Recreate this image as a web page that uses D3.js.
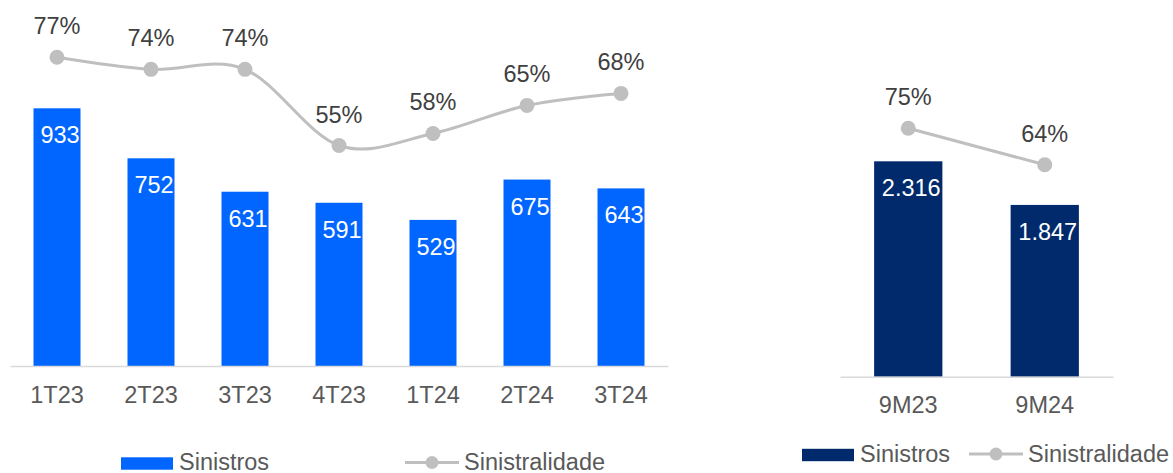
<!DOCTYPE html>
<html>
<head>
<meta charset="utf-8">
<script src="https://cdn.jsdelivr.net/npm/d3@7"></script>
<style>
  body { margin: 0; background: #fff; }
  svg { display: block; font-family: Arial, "Liberation Sans", sans-serif; }
</style>
</head>
<body>
<svg id="chart" width="1173" height="473"></svg>
<script>
// quarterly panel
const quarters = ["1T23", "2T23", "3T23", "4T23", "1T24", "2T24", "3T24"];
const sinistros = [933, 752, 631, 591, 529, 675, 643];
const sinistralidade = [77, 74, 74, 55, 58, 65, 68];

// year-to-date panel
const periods = ["9M23", "9M24"];
const sinistros9M = [2316, 1847];
const sinistralidade9M = [75, 64];

const legendLabels = ["Sinistros", "Sinistralidade"];

const locale = d3.formatLocale({ decimal: ",", thousands: ".", grouping: [3], currency: ["R$", ""] });
const fmtNum = locale.format(",");
const fmtPct = function(d) { return d + "%"; };

const svg = d3.select("#chart");
const FONT = 23.5;

function panel(opts) {
    var g = svg.append("g");
    var x = d3.scaleBand()
        .domain(opts.cats)
        .range(opts.xRange)
        .paddingInner(0.5)
        .paddingOuter(0.25);
    var y = d3.scaleLinear().domain(opts.barDomain).range([opts.base, opts.barTop]);
    var yp = d3.scaleLinear().domain([0, 100]).range([opts.base, opts.pctTop]);

    // bars
    g.selectAll("rect.bar")
        .data(opts.bars).enter()
        .append("rect").attr("class", "bar")
        .attr("x", function(d, i) { return x(opts.cats[i]); })
        .attr("y", function(d) { return y(d); })
        .attr("width", x.bandwidth())
        .attr("height", function(d) { return opts.base - y(d); })
        .attr("fill", opts.color);

    // bar value labels
    g.selectAll("text.val")
        .data(opts.bars).enter()
        .append("text").attr("class", "val")
        .attr("x", function(d, i) { return x(opts.cats[i]) + x.bandwidth() / 2 + 3; })
        .attr("y", function(d) { return y(d) + 35; })
        .attr("text-anchor", "middle")
        .attr("font-size", FONT)
        .attr("fill", "#fff")
        .text(fmtNum);

    // axis
    var axis = g.append("g")
        .attr("transform", "translate(0," + opts.base + ")")
        .call(d3.axisBottom(x).tickSize(0).tickSizeOuter(0).tickPadding(20));
    axis.select(".domain").attr("stroke", "#D9D9D9").attr("stroke-width", 1.5);
    axis.selectAll("text")
        .attr("font-size", FONT)
        .attr("font-family", "Arial, 'Liberation Sans', sans-serif")
        .attr("fill", "#595959");

    // ratio line
    var line = d3.line()
        .x(function(d, i) { return x(opts.cats[i]) + x.bandwidth() / 2; })
        .y(function(d) { return yp(d); })
        .curve(opts.curve);
    g.append("path")
        .datum(opts.pcts)
        .attr("d", line)
        .attr("fill", "none")
        .attr("stroke", "#BFBFBF")
        .attr("stroke-width", 3);

    g.selectAll("circle.pt")
        .data(opts.pcts).enter()
        .append("circle").attr("class", "pt")
        .attr("cx", function(d, i) { return x(opts.cats[i]) + x.bandwidth() / 2; })
        .attr("cy", function(d) { return yp(d); })
        .attr("r", 7.5)
        .attr("fill", "#BFBFBF");

    g.selectAll("text.pct")
        .data(opts.pcts).enter()
        .append("text").attr("class", "pct")
        .attr("x", function(d, i) { return x(opts.cats[i]) + x.bandwidth() / 2; })
        .attr("y", function(d) { return yp(d) - 23; })
        .attr("text-anchor", "middle")
        .attr("font-size", FONT)
        .attr("fill", "#404040")
        .text(fmtPct);

    // legend
    var lg = g.append("g").attr("transform", "translate(0," + opts.legendY + ")");
    var L = opts.legend;
    lg.append("rect")
        .attr("x", L.rectX).attr("y", -6.2)
        .attr("width", 52).attr("height", 12.4)
        .attr("fill", opts.color);
    lg.append("text")
        .attr("x", L.rectX + 58).attr("y", 6.5)
        .attr("font-size", FONT).attr("fill", "#595959")
        .text(legendLabels[0]);
    lg.append("line")
        .attr("x1", L.lineX).attr("x2", L.lineX + 54)
        .attr("y1", -1).attr("y2", -1)
        .attr("stroke", "#BFBFBF").attr("stroke-width", 3);
    lg.append("circle")
        .attr("cx", L.lineX + 27).attr("cy", -1).attr("r", 6.5)
        .attr("fill", "#BFBFBF");
    lg.append("text")
        .attr("x", L.lineX + 59).attr("y", 6.5)
        .attr("font-size", FONT).attr("fill", "#595959")
        .text(legendLabels[1]);
}

panel({
    cats: quarters, bars: sinistros, pcts: sinistralidade,
    xRange: [10, 668], base: 366,
    barDomain: [0, 1000], barTop: 366 - 276.2,
    pctTop: 366 - 400.9,
    color: "#0066FF",
    curve: d3.curveCardinal.tension(0),
    legendY: 463.5,
    legend: { rectX: 121, lineX: 405 }
});

panel({
    cats: periods, bars: sinistros9M, pcts: sinistralidade9M,
    xRange: [840, 1113], base: 376.7,
    barDomain: [0, 2500], barTop: 376.7 - 232.5,
    pctTop: 376.7 - 331.2,
    color: "#002A6C",
    curve: d3.curveLinear,
    legendY: 455,
    legend: { rectX: 802, lineX: 969 }
});
</script>
</body>
</html>
